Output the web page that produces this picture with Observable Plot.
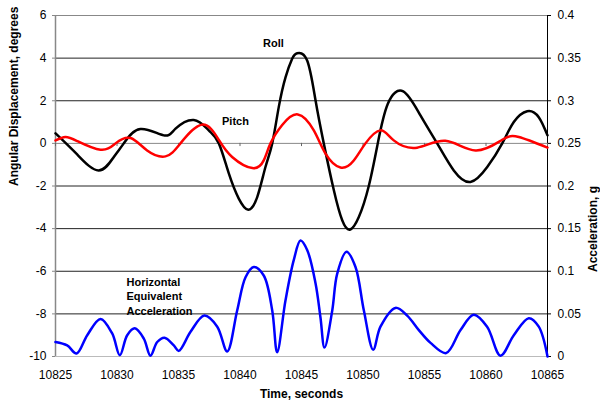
<!DOCTYPE html>
<html><head><meta charset="utf-8">
<script src="https://cdn.jsdelivr.net/npm/d3@7"></script>
<script src="https://cdn.jsdelivr.net/npm/@observablehq/plot@0.6"></script>
<style>body{margin:0;background:#fff;} #chart svg{display:block;}</style>
</head><body><div id="chart"></div>
<script>
// Roll (degrees)
const rollTime = [10825.0,10826.76,10828.5,10829.74,10830.55,10831.9,10833.8,10834.76,10836.24,10837.46,10838.28,10839.09,10839.9,10840.67,10841.4,10842.07,10842.62,10843.15,10843.7,10844.24,10844.65,10845.46,10846.14,10846.81,10847.63,10848.31,10848.93,10849.66,10850.47,10851.2,10852.02,10853.27,10854.67,10856.03,10857.38,10858.74,10860.1,10861.32,10862.26,10863.35,10864.29,10865.0];
const rollDeg  = [0.47,-0.52,-1.27,-0.64,0,0.67,0.375,0.69,1.1,0.61,0,-1.41,-2.59,-3.11,-2.52,-1.11,0,1.7,3.1,3.97,4.23,3.89,2.02,0,-2.2,-3.61,-4.05,-3.46,-2.0,0,1.86,2.44,1.31,0,-1.27,-1.81,-1.11,0,1.0,1.51,1.23,0.375];
// Pitch (degrees)
const pitchTime = [10825.0,10825.8,10826.76,10828.66,10829.88,10831.1,10832.45,10833.94,10835.16,10836.92,10838.28,10839.36,10841.0,10841.93,10842.48,10843.43,10844.7,10846.0,10846.95,10848.17,10849.25,10850.2,10851.42,10852.5,10854.4,10856.7,10859.15,10861.32,10862.67,10865.0];
const pitchDeg  = [0.14,0.3,0.11,-0.3,0,0.25,-0.33,-0.61,0,0.88,0.16,-0.64,-1.16,-0.8,0,0.86,1.36,0.61,-0.48,-1.13,-0.8,0,0.61,0.14,-0.2,0.12,-0.33,0.17,0.3,-0.2];
// Horizontal equivalent acceleration (g)
const accelTime = [10825.0,10825.95,10826.71,10827.58,10828.66,10829.61,10830.23,10830.83,10831.45,10832.18,10832.72,10833.27,10833.86,10834.62,10835.02,10835.98,10837.11,10838.15,10838.96,10839.77,10840.45,10841.12,10841.93,10842.62,10843.02,10843.7,10844.37,10844.92,10845.46,10846.14,10846.54,10846.87,10847.5,10847.9,10848.66,10849.39,10850.07,10850.83,10851.42,10852.64,10853.59,10854.54,10855.49,10856.76,10857.93,10859.0,10860.09,10861.18,10862.26,10863.48,10864.29,10865.0];
const accelG    = [0.017,0.013,0.0035,0.025,0.044,0.027,0.0015,0.025,0.033,0.021,0.001,0.017,0.022,0.013,0.0066,0.029,0.048,0.035,0.006,0.054,0.093,0.105,0.095,0.054,0.005,0.066,0.113,0.136,0.125,0.086,0.046,0.0105,0.054,0.097,0.123,0.105,0.054,0.008,0.035,0.057,0.048,0.031,0.016,0.004,0.031,0.049,0.035,0.001,0.025,0.045,0.035,0.0];

const timeTicks  = [10825,10830,10835,10840,10845,10850,10855,10860,10865];
const degTicks   = [6,4,2,0,-2,-4,-6,-8,-10];
const accelTicks = [0,0.05,0.1,0.15,0.2,0.25,0.3,0.35,0.4];
const gridDark   = [4,2,-2,-4,-6,-8];
const gridGray   = [6,0];
const gridBottom = [-10];

const seriesLabels = ["Roll","Pitch"];
const seriesLabelTime = [10842.72,10839.63];
const seriesLabelDeg  = [4.69,1.03];
const accelLabel = ["Horizontal\nEquivalent\nAcceleration"];
const accelLabelTime = [10830.77];
const accelLabelDeg  = [-7.15];

// map acceleration (g) onto the degree axis: 0 g -> -10, 0.4 g -> 6
const gToDeg = g => g * 40 - 10;

const roll  = rollTime.map((t,i) => ({t, v: rollDeg[i]}));
const pitch = pitchTime.map((t,i) => ({t, v: pitchDeg[i]}));
const accel = accelTime.map((t,i) => ({t, v: gToDeg(accelG[i])}));
const labs  = seriesLabels.map((s,i) => ({s, t: seriesLabelTime[i], v: seriesLabelDeg[i]}));
const alab  = accelLabel.map((s,i) => ({s, t: accelLabelTime[i], v: accelLabelDeg[i]}));

const chart = Plot.plot({
  width: 600, height: 406,
  marginLeft: 55, marginRight: 53, marginTop: 15, marginBottom: 50,
  style: {fontFamily: "'Liberation Sans', Arial, sans-serif", fontSize: "12px", color: "#000", background: "#fff"},
  x: {domain: [10825, 10865]},
  y: {domain: [-10, 6]},
  marks: [
    Plot.ruleY(gridDark, {stroke: "#222", strokeWidth: 1}),
    Plot.ruleY(gridGray, {stroke: "#888", strokeWidth: 1}),
    Plot.ruleY(gridBottom, {stroke: "#bbb", strokeWidth: 1}),
    Plot.ruleX([10825], {stroke: "#888", strokeWidth: 1.5}),
    Plot.ruleX([10865], {stroke: "#000", strokeWidth: 1}),
    Plot.ruleX(timeTicks, {x: d => d, y1: 0, y2: -0.15, stroke: "#666"}),
    Plot.axisY({anchor: "left", ticks: degTicks, tickSize: 3, tickPadding: 6, tickFormat: d => String(d), label: null, stroke: "#888", fill: "#000", fontSize: 12}),
    Plot.axisY({anchor: "right", ticks: accelTicks.map(gToDeg), tickSize: 3, tickPadding: 7,
      tickFormat: d => String(accelTicks[accelTicks.map(gToDeg).indexOf(d)]), label: null, stroke: "#000", fill: "#000", fontSize: 12}),
    Plot.axisX({ticks: timeTicks, tickSize: 0, tickPadding: 14, tickFormat: d => String(d), label: null, fill: "#000", fontSize: 12}),
    Plot.line(roll,  {x: "t", y: "v", stroke: "#000", strokeWidth: 2.5, curve: "natural"}),
    Plot.line(pitch, {x: "t", y: "v", stroke: "#ff0000", strokeWidth: 2.5, curve: "natural"}),
    Plot.line(accel, {x: "t", y: "v", stroke: "#0000ff", strokeWidth: 2.5, curve: "catmull-rom"}),
    Plot.text(labs, {x: "t", y: "v", text: "s", fontWeight: "bold", fontSize: 11, fill: "#000"}),
    Plot.text(alab, {x: "t", y: "v", text: "s", textAnchor: "start", fontWeight: "bold", fontSize: 11, lineHeight: 1.3, fill: "#000"}),
    Plot.text(["Angular Displacement, degrees"], {frameAnchor: "left", dx: -41, rotate: -90, fontWeight: "bold", fontSize: 12, fill: "#000"}),
    Plot.text(["Acceleration, g"], {frameAnchor: "right", dx: 46, rotate: -90, fontWeight: "bold", fontSize: 12, fill: "#000"}),
    Plot.text(["Time, seconds"], {frameAnchor: "bottom", dy: 41, fontWeight: "bold", fontSize: 12, fill: "#000"})
  ]
});
document.getElementById("chart").appendChild(chart);
</script>
</body></html>
